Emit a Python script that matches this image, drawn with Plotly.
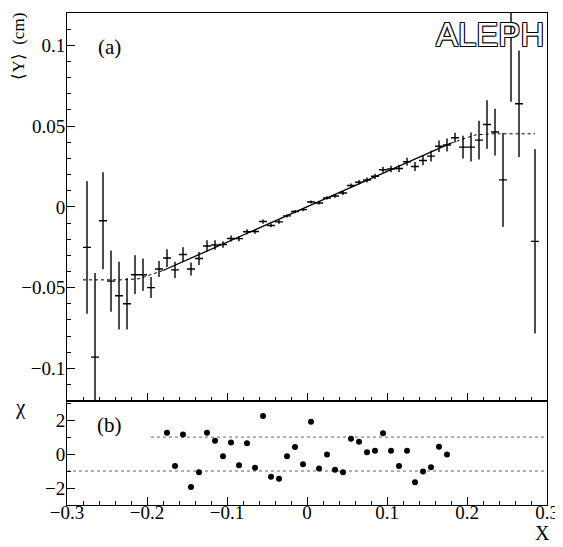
import plotly.graph_objects as go

# ---------------- data ----------------
# panel (a): <Y> vs X, bin centres, values and errors
xa = [-0.275, -0.265, -0.255, -0.245, -0.235, -0.225, -0.215, -0.205, -0.195, -0.185,
      -0.175, -0.165, -0.155, -0.145, -0.135, -0.125, -0.115, -0.105, -0.095, -0.085,
      -0.075, -0.065, -0.055, -0.045, -0.035, -0.025, -0.015, -0.005, 0.005, 0.015,
      0.025, 0.035, 0.045, 0.055, 0.065, 0.075, 0.085, 0.095, 0.105, 0.115,
      0.125, 0.135, 0.145, 0.155, 0.165, 0.175, 0.185, 0.195, 0.205, 0.215,
      0.225, 0.235, 0.245, 0.255, 0.265, 0.285]
ya = [-0.0251, -0.093, -0.0086, -0.046, -0.055, -0.060, -0.042, -0.042, -0.050, -0.0385,
      -0.0317, -0.039, -0.0295, -0.0385, -0.032, -0.0242, -0.0236, -0.0233, -0.0196, -0.0197,
      -0.0154, -0.0153, -0.0091, -0.0115, -0.0093, -0.0056, -0.0029, -0.0017, 0.0030, 0.0024,
      0.0055, 0.0067, 0.0086, 0.0132, 0.0152, 0.0166, 0.0189, 0.0230, 0.0234, 0.0237,
      0.0279, 0.0250, 0.0287, 0.0314, 0.0375, 0.0383, 0.0428, 0.0370, 0.0370, 0.0413,
      0.0510, 0.0463, 0.0167, 0.125, 0.0638, -0.0214]
ea = [0.041, 0.052, 0.030, 0.019, 0.021, 0.016, 0.012, 0.010, 0.0065, 0.005,
      0.0055, 0.005, 0.0045, 0.004, 0.004, 0.0035, 0.003, 0.002, 0.0018, 0.0016,
      0.0015, 0.0014, 0.0013, 0.0012, 0.0011, 0.001, 0.001, 0.001, 0.001, 0.001,
      0.001, 0.0011, 0.0012, 0.0013, 0.0014, 0.0015, 0.0016, 0.0018, 0.002, 0.0022,
      0.0025, 0.0028, 0.003, 0.0033, 0.0036, 0.004, 0.003, 0.007, 0.009, 0.012,
      0.015, 0.0145, 0.029, 0.060, 0.033, 0.057]
half_bin = [0.005] * len(xa)

# linear fit (solid) and its extrapolation (dotted)
fit_x = [-0.18, 0.18]
fit_y = [-0.0394, 0.0394]
extl_x = [-0.28, -0.23, -0.21, -0.195, -0.18]
extl_y = [-0.0452, -0.0452, -0.0445, -0.042, -0.0394]
extr_x = [0.18, 0.195, 0.21, 0.23, 0.285]
extr_y = [0.0394, 0.042, 0.0445, 0.0452, 0.0452]

# panel (b): chi of the fit
xb = [-0.175, -0.165, -0.155, -0.145, -0.135, -0.125, -0.115, -0.105, -0.095, -0.085,
      -0.075, -0.065, -0.055, -0.045, -0.035, -0.025, -0.015, -0.005, 0.005, 0.015,
      0.025, 0.035, 0.045, 0.055, 0.065, 0.075, 0.085, 0.095, 0.105, 0.115,
      0.125, 0.135, 0.145, 0.155, 0.165, 0.175]
chi = [1.26, -0.70, 1.15, -1.94, -1.07, 1.26, 0.79, -0.13, 0.68, -0.66,
       0.64, -0.81, 2.24, -1.34, -1.45, -0.13, 0.41, -0.60, 1.90, -0.85,
       -0.02, -0.92, -1.07, 0.90, 0.72, 0.11, 0.19, 1.22, 0.19, -0.70,
       0.19, -1.66, -1.02, -0.77, 0.43, -0.02]
band_up_x = [-0.195, 0.3]
band_up_y = [1, 1]
band_lo_x = [-0.3, 0.3]
band_lo_y = [-1, -1]

SERIF = "Liberation Serif"

fig = go.Figure()

fig.add_trace(go.Scatter(x=extl_x, y=extl_y, mode="lines",
                         line=dict(color="black", width=1, dash="dot"),
                         xaxis="x", yaxis="y", showlegend=False))
fig.add_trace(go.Scatter(x=extr_x, y=extr_y, mode="lines",
                         line=dict(color="black", width=1, dash="dot"),
                         xaxis="x", yaxis="y", showlegend=False))
fig.add_trace(go.Scatter(x=fit_x, y=fit_y, mode="lines",
                         line=dict(color="black", width=1.3),
                         xaxis="x", yaxis="y", showlegend=False))
fig.add_trace(go.Scatter(
    x=xa, y=ya, mode="markers", marker=dict(size=1, color="black"),
    error_y=dict(type="data", array=ea, color="black", thickness=1.4, width=0),
    error_x=dict(type="data", array=half_bin, color="black", thickness=1.4, width=0),
    xaxis="x", yaxis="y", showlegend=False))

fig.add_trace(go.Scatter(x=band_up_x, y=band_up_y, mode="lines",
                         line=dict(color="#666", width=1, dash="dot"),
                         xaxis="x2", yaxis="y2", showlegend=False))
fig.add_trace(go.Scatter(x=band_lo_x, y=band_lo_y, mode="lines",
                         line=dict(color="#666", width=1, dash="dot"),
                         xaxis="x2", yaxis="y2", showlegend=False))
fig.add_trace(go.Scatter(x=xb, y=chi, mode="markers",
                         marker=dict(size=6, color="black", symbol="circle"),
                         xaxis="x2", yaxis="y2", showlegend=False))

axis_common = dict(showline=True, linecolor="black", linewidth=1, mirror=True,
                   ticks="inside", tickcolor="black", showgrid=False, zeroline=False,
                   tickfont=dict(family=SERIF, size=19, color="black"))

# the page body adds an 8 px offset, so the figure is 8 px smaller and margins shifted
fig.update_layout(
    width=555, height=539,
    margin=dict(l=59, r=12, t=4, b=42),
    plot_bgcolor="white", paper_bgcolor="white",
    font=dict(family=SERIF, color="black"),
    xaxis=dict(axis_common, domain=[0, 1], range=[-0.3, 0.3], anchor="y",
               showticklabels=False, dtick=0.1, tick0=0, ticklen=8,
               minor=dict(dtick=0.02, ticklen=4, ticks="inside", tickcolor="black")),
    yaxis=dict(axis_common, domain=[0.212, 1], range=[-0.12, 0.12], anchor="x",
               tickvals=[-0.1, -0.05, 0, 0.05, 0.1],
               ticktext=["\u22120.1", "\u22120.05", "0", "0.05", "0.1"], ticklen=8,
               ticklabelstandoff=-3,
               minor=dict(dtick=0.01, tick0=0, ticklen=4, ticks="inside", tickcolor="black")),
    xaxis2=dict(axis_common, domain=[0, 1], range=[-0.3, 0.3], anchor="y2",
                tickvals=[-0.3, -0.2, -0.1, 0, 0.1, 0.2, 0.3],
                ticktext=["\u22120.3", "\u22120.2", "\u22120.1", "0", "0.1", "0.2", "0.3"],
                ticklen=8, ticklabelstandoff=-10,
                minor=dict(dtick=0.02, tick0=0, ticklen=4, ticks="inside", tickcolor="black")),
    yaxis2=dict(axis_common, domain=[0, 0.2105], range=[-3, 3.1], anchor="x2",
                tickvals=[-2, 0, 2], ticktext=["\u22122", "0", "2"], ticklen=8,
                ticklabelstandoff=-3,
                minor=dict(dtick=1, tick0=0, ticklen=4, ticks="inside", tickcolor="black")),
)

ann = []
ann.append(dict(text="\u27e8Y\u27e9  (cm)", xref="paper", yref="paper", x=-0.102, y=1.004,
                xanchor="center", yanchor="top", textangle=-90, showarrow=False,
                font=dict(family=SERIF, size=17, color="black")))
ann.append(dict(text="(a)", xref="paper", yref="paper", x=0.089, y=0.93,
                xanchor="center", yanchor="middle", showarrow=False,
                font=dict(family=SERIF, size=21, color="black")))
ann.append(dict(text="(b)", xref="paper", yref="paper", x=0.089, y=0.162,
                xanchor="center", yanchor="middle", showarrow=False,
                font=dict(family=SERIF, size=21, color="black")))
ann.append(dict(text="\u03c7", xref="paper", yref="paper", x=-0.097, y=0.199,
                xanchor="center", yanchor="middle", showarrow=False,
                font=dict(family=SERIF, size=21, color="black")))
ann.append(dict(text="X", xref="paper", yref="paper", x=0.99, y=-0.057,
                xanchor="center", yanchor="middle", showarrow=False,
                font=dict(family=SERIF, size=20, color="black")))
ann.append(dict(text="ALEPH", xref="paper", yref="paper", x=0.998, y=0.997,
                xanchor="right", yanchor="top", showarrow=False,
                font=dict(family="Liberation Sans", size=33, color="white",
                          shadow="-1px -1px 0 #000, 1px -1px 0 #000, -1px 1px 0 #000, 1px 1px 0 #000")))
fig.update_layout(annotations=ann)

fig.write_html("out.html")
